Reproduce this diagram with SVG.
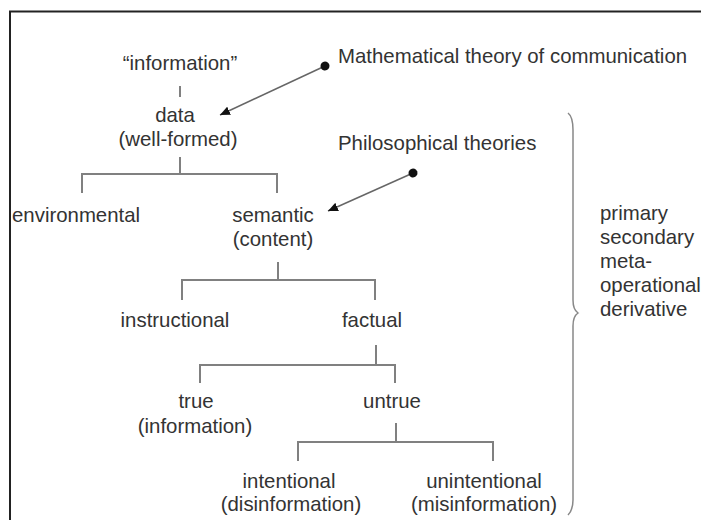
<svg xmlns="http://www.w3.org/2000/svg" width="701" height="520" viewBox="0 0 701 520">
<defs>
<style>
.t{font-family:"Liberation Sans",Arial,sans-serif;font-size:20.4px;fill:#333}
.c{text-anchor:middle}
.tree{stroke:#808080;stroke-width:2;fill:none}
.arr{stroke:#666;stroke-width:1.5;fill:none}
.frame{stroke:#222;stroke-width:2;fill:none}
</style>
<marker id="head" markerUnits="userSpaceOnUse" markerWidth="11" markerHeight="9" refX="10" refY="4.5" orient="auto">
<path d="M0,0 L10,4.5 L0,9 z" fill="#111"/>
</marker>
<marker id="dot" markerUnits="userSpaceOnUse" markerWidth="10" markerHeight="10" refX="5" refY="5" orient="auto">
<circle cx="5" cy="5" r="4.5" fill="#111"/>
</marker>
</defs>
<rect width="701" height="520" fill="#fff"/>
<path class="frame" d="M10,520 L10,11.5 L701,11.5"/>
<g id="connectors">
<path class="tree" d="M180,86 V97"/>
<path class="tree" d="M180,157 V174 M82,193 V174 H277 V193"/>
<path class="tree" d="M278,262 V280 M182,300 V280 H375 V300"/>
<path class="tree" d="M376,345 V365 M200,383 V365 H395 V383"/>
<path class="tree" d="M396,423 V442 M298,461 V442 H493 V461"/>
<line class="arr" x1="325" y1="66" x2="220" y2="115" marker-start="url(#dot)" marker-end="url(#head)"/>
<line class="arr" x1="413" y1="173" x2="328" y2="211" marker-start="url(#dot)" marker-end="url(#head)"/>
<path d="M568,113 C572,116 573,122 573,130 L573,300 C573,308 575,311 578,313 C575,315 573,318 573,326 L573,500 C573,508 571,512 568,515" stroke="#888" stroke-width="1.5" fill="none"/>
</g>
<g id="information"><text class="t c" x="180" y="70">“information”</text></g>
<g id="data"><text class="t c" x="175" y="122">data</text><text class="t c" x="178" y="146">(well-formed)</text></g>
<g id="mathematical"><text class="t" x="338" y="63">Mathematical theory of communication</text></g>
<g id="philosophical"><text class="t" x="338" y="150">Philosophical theories</text></g>
<g id="environmental"><text class="t" x="12" y="222">environmental</text></g>
<g id="semantic"><text class="t c" x="273" y="222">semantic</text><text class="t c" x="273" y="246">(content)</text></g>
<g id="instructional"><text class="t c" x="175" y="327">instructional</text></g>
<g id="factual"><text class="t c" x="372" y="327">factual</text></g>
<g id="true"><text class="t c" x="196" y="408">true</text><text class="t c" x="195" y="433">(information)</text></g>
<g id="untrue"><text class="t c" x="392" y="408">untrue</text></g>
<g id="intentional"><text class="t c" x="289" y="488">intentional</text><text class="t c" x="291" y="511">(disinformation)</text></g>
<g id="unintentional"><text class="t c" x="484" y="488">unintentional</text><text class="t c" x="484" y="511">(misinformation)</text></g>
<g id="types">
<text class="t" x="600" y="220">primary</text>
<text class="t" x="600" y="244">secondary</text>
<text class="t" x="600" y="268">meta-</text>
<text class="t" x="600" y="292">operational</text>
<text class="t" x="600" y="316">derivative</text>
</g>
</svg>
